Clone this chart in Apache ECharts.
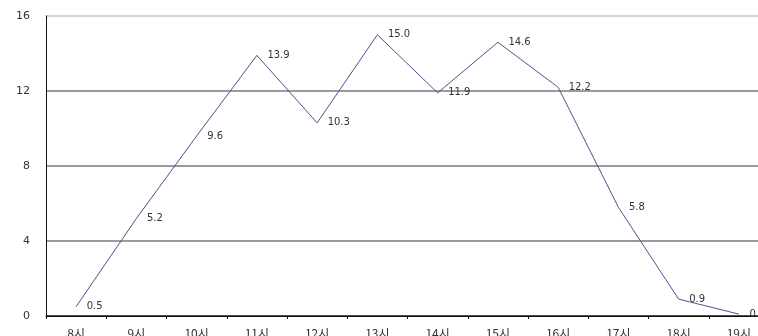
<!DOCTYPE html>
<html>
<head>
<meta charset="utf-8">
<script src="https://cdn.jsdelivr.net/npm/echarts@6/dist/echarts.min.js"></script>
<style>
  html, body { margin: 0; padding: 0; background: #fff; }
  #chart { width: 758px; height: 336px; }
</style>
</head>
<body>
<div id="chart"></div>
<script>
// Hourly values, 8시 through 19시
const hours = ['8시', '9시', '10시', '11시', '12시', '13시', '14시', '15시', '16시', '17시', '18시', '19시'];
const values = [0.5, 5.2, 9.6, 13.9, 10.3, 15.0, 11.9, 14.6, 12.2, 5.8, 0.9, 0.1];
const yTicks = [0, 4, 8, 12, 16];

const chart = echarts.init(document.getElementById('chart'), null, { renderer: 'canvas' });

chart.setOption({
  animation: false,
  backgroundColor: '#ffffff',
  // plot area runs slightly past the right edge of the canvas
  grid: { left: 46, width: 723, top: 16, bottom: 20, containLabel: false, outerBoundsMode: 'none' },
  xAxis: {
    type: 'category',
    data: hours,
    boundaryGap: true,
    axisLine: { lineStyle: { color: '#111', width: 1 } },
    axisTick: { show: true, length: 3, lineStyle: { color: '#111' } },
    axisLabel: {
      color: '#333',
      fontSize: 12,
      margin: 11,
      fontFamily: 'Noto Sans CJK KR, sans-serif'
    },
    splitLine: { show: false }
  },
  yAxis: {
    type: 'value',
    min: yTicks[0],
    max: yTicks[yTicks.length - 1],
    interval: 4,
    axisLine: { show: true, lineStyle: { color: '#111', width: 1 } },
    axisTick: { show: false },
    axisLabel: {
      color: '#333',
      fontSize: 11,
      margin: 16,
      fontFamily: 'DejaVu Sans, sans-serif'
    },
    splitLine: {
      show: true,
      lineStyle: { color: ['#111', '#7a7a7a', '#7a7a7a', '#7a7a7a', '#c4c4c4'], width: 1.5 }
    }
  },
  series: [{
    type: 'line',
    data: values,
    symbol: 'circle',
    symbolSize: 1,
    showSymbol: true,
    itemStyle: { color: 'rgba(0,0,0,0)', borderWidth: 0 },
    lineStyle: { color: '#50508f', width: 1 },
    labelLayout: { hideOverlap: false },
    label: {
      show: true,
      position: 'right',
      distance: 10,
      color: '#333',
      fontSize: 10,
      fontFamily: 'DejaVu Sans, sans-serif',
      formatter: p => p.value.toFixed(1)
    }
  }]
});
</script>
</body>
</html>
